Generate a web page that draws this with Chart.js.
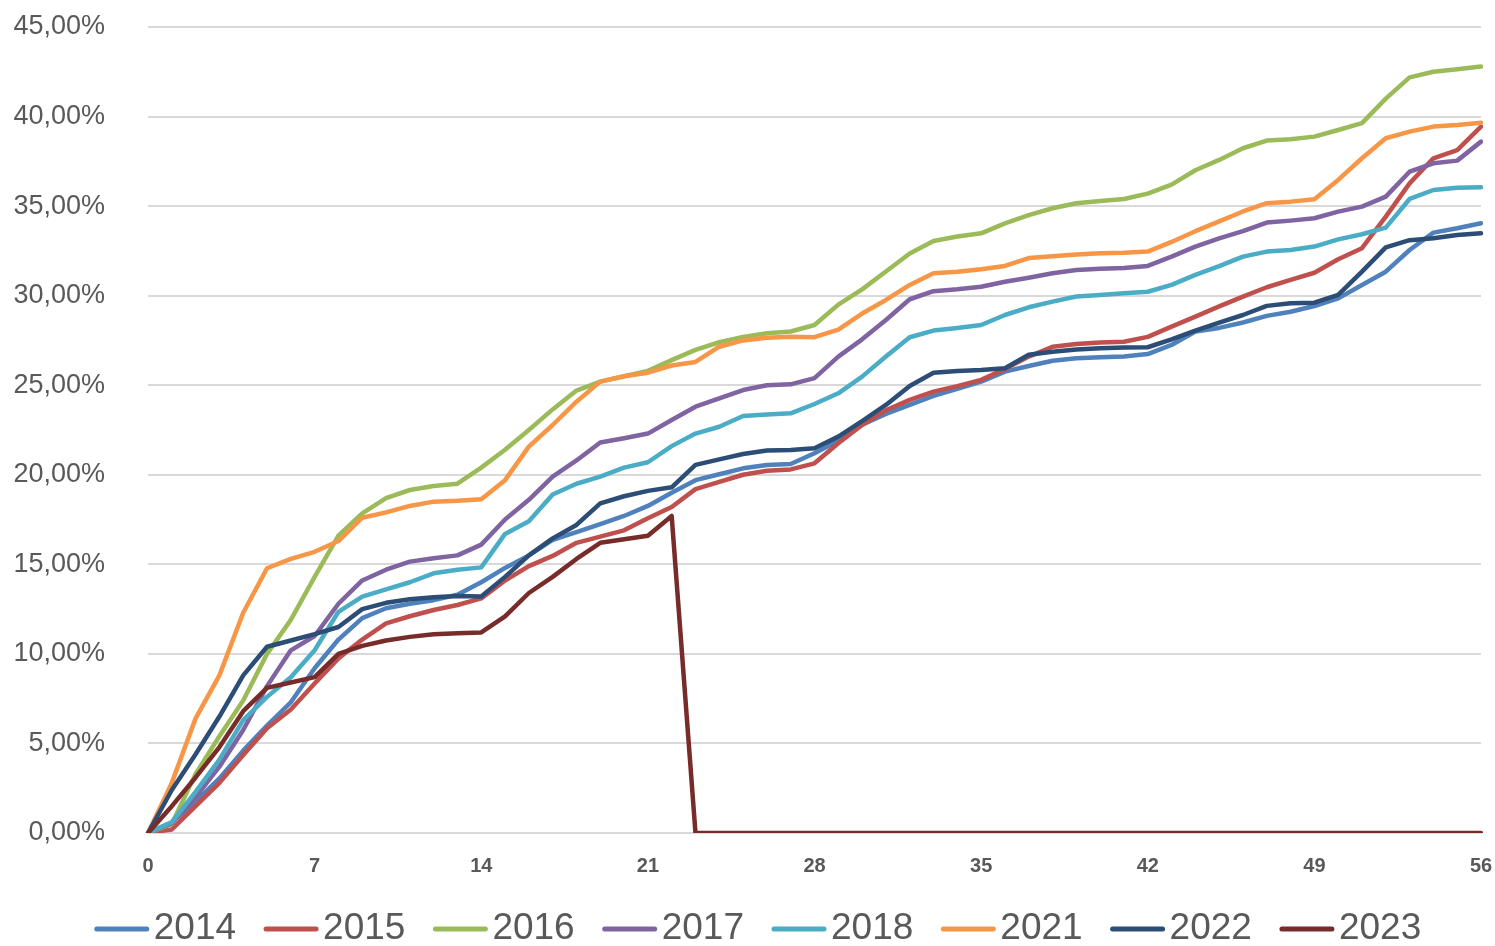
<!DOCTYPE html>
<html>
<head>
<meta charset="utf-8">
<script src="https://cdn.jsdelivr.net/npm/chart.js@4.4.1/dist/chart.umd.min.js"></script>
<style>
html,body{margin:0;padding:0;background:#fff;}
#wrap{width:1495px;height:946px;position:relative;}
</style>
</head>
<body>
<div id="wrap"><canvas id="c" width="1495" height="946"></canvas></div>
<script>
const weeks = Array.from({length: 57}, (_, i) => i);
const seriesNames = ['2014','2015','2016','2017','2018','2021','2022','2023'];
const colors = ['#4F81BD','#C0504D','#9BBB59','#8064A2','#4BACC6','#F79646','#2C4D75','#772C2A'];
const yTicks = [0,5,10,15,20,25,30,35,40,45];

const s2014 = [0,0.6,1.75,3.05,4.6,6.0,7.3,9.2,10.8,12.0,12.55,12.8,13.0,13.3,14.0,14.8,15.5,16.36,16.8,17.25,17.7,18.26,19.0,19.7,20.03,20.36,20.55,20.6,21.2,21.9,22.8,23.4,23.9,24.4,24.8,25.2,25.76,26.07,26.37,26.5,26.56,26.6,26.74,27.25,28.0,28.2,28.5,28.87,29.1,29.42,29.85,30.6,31.34,32.55,33.52,33.76,34.04];
const s2015 = [0,0.2,1.5,2.8,4.35,5.85,6.9,8.35,9.75,10.8,11.7,12.1,12.45,12.73,13.1,14.1,14.9,15.47,16.2,16.55,16.9,17.57,18.2,19.2,19.6,20.0,20.23,20.3,20.64,21.76,22.78,23.6,24.18,24.64,24.95,25.3,25.9,26.6,27.15,27.3,27.38,27.43,27.7,28.27,28.83,29.4,29.95,30.47,30.88,31.28,32.03,32.65,34.41,36.27,37.67,38.13,39.44];
const s2016 = [0,0.5,3.3,5.4,7.4,10.0,11.9,14.3,16.6,17.85,18.7,19.15,19.37,19.5,20.4,21.4,22.5,23.65,24.7,25.2,25.5,25.8,26.4,26.97,27.4,27.7,27.9,28.0,28.36,29.5,30.35,31.35,32.35,33.05,33.3,33.48,34.04,34.5,34.88,35.16,35.29,35.4,35.7,36.2,37.0,37.58,38.23,38.66,38.73,38.88,39.25,39.63,41.0,42.19,42.5,42.64,42.79];
const s2017 = [0,0.55,2.0,3.7,5.75,8.2,10.2,11.0,12.8,14.1,14.7,15.15,15.34,15.5,16.1,17.5,18.6,19.9,20.8,21.8,22.04,22.3,23.06,23.8,24.27,24.73,25.0,25.05,25.4,26.6,27.56,28.64,29.8,30.25,30.36,30.5,30.78,31.0,31.25,31.43,31.5,31.55,31.66,32.18,32.74,33.2,33.6,34.08,34.19,34.32,34.69,34.97,35.53,36.92,37.39,37.54,38.6];
const s2018 = [0,0.6,2.3,4.1,6.3,7.6,8.7,10.2,12.35,13.2,13.6,14.0,14.5,14.7,14.83,16.7,17.4,18.9,19.5,19.9,20.4,20.7,21.6,22.3,22.68,23.28,23.37,23.43,23.95,24.55,25.48,26.6,27.68,28.05,28.2,28.36,28.92,29.35,29.67,29.95,30.04,30.13,30.22,30.6,31.16,31.65,32.18,32.46,32.55,32.74,33.14,33.43,33.8,35.4,35.9,36.03,36.05];
const s2021 = [0,2.8,6.4,8.8,12.3,14.78,15.3,15.7,16.3,17.6,17.9,18.26,18.5,18.55,18.63,19.7,21.57,22.78,24.08,25.2,25.5,25.7,26.1,26.3,27.15,27.5,27.65,27.7,27.68,28.1,29.0,29.76,30.6,31.25,31.34,31.47,31.66,32.1,32.2,32.3,32.37,32.4,32.46,33.0,33.6,34.15,34.7,35.16,35.25,35.38,36.46,37.67,38.79,39.16,39.44,39.53,39.66];
const s2022 = [0,2.4,4.4,6.5,8.8,10.4,10.75,11.1,11.5,12.5,12.85,13.05,13.16,13.23,13.2,14.3,15.5,16.45,17.2,18.4,18.8,19.1,19.3,20.55,20.86,21.16,21.35,21.38,21.48,22.13,23.0,23.9,24.96,25.7,25.8,25.85,25.95,26.7,26.87,27.0,27.06,27.1,27.12,27.56,28.05,28.5,28.92,29.43,29.58,29.61,30.04,31.34,32.7,33.1,33.2,33.39,33.48];
const s2023 = [0,1.5,3.1,4.8,6.8,8.1,8.4,8.7,10.0,10.45,10.75,10.95,11.1,11.15,11.2,12.1,13.4,14.3,15.3,16.2,16.4,16.6,17.7,0,0,0,0,0,0,0,0,0,0,0,0,0,0,0,0,0,0,0,0,0,0,0,0,0,0,0,0,0,0,0,0,0,0];

const allSeries = [s2014,s2015,s2016,s2017,s2018,s2021,s2022,s2023];
const FONT = "'Liberation Sans', Arial, sans-serif";
const TXT = '#595959';

const datasets = allSeries.map((d, i) => ({
  label: seriesNames[i],
  data: d,
  borderColor: colors[i],
  backgroundColor: colors[i],
  borderWidth: 4.5,
  pointRadius: 0,
  pointHoverRadius: 0,
  tension: 0,
  fill: false,
  borderJoinStyle: 'round',
  borderCapStyle: 'round',
  order: allSeries.length - i
}));

const legendPlugin = {
  id: 'bottomLegend',
  afterDraw(chart) {
    const ctx = chart.ctx;
    ctx.save();
    ctx.font = '37px ' + FONT;
    const lineLen = 54, gapText = 5, gapItem = 28;
    const widths = seriesNames.map(n => ctx.measureText(n).width);
    const total = widths.reduce((a, w) => a + lineLen + gapText + w, 0) + gapItem * (seriesNames.length - 1);
    let x = 758 - total / 2;
    const y = 929;
    seriesNames.forEach((n, i) => {
      ctx.strokeStyle = colors[i];
      ctx.lineWidth = 5;
      ctx.lineCap = 'round';
      ctx.beginPath();
      ctx.moveTo(x + 2, y);
      ctx.lineTo(x + lineLen - 2, y);
      ctx.stroke();
      ctx.fillStyle = TXT;
      ctx.textBaseline = 'middle';
      ctx.textAlign = 'left';
      ctx.fillText(n, x + lineLen + gapText, y);
      x += lineLen + gapText + widths[i] + gapItem;
    });
    ctx.restore();
  }
};

new Chart(document.getElementById('c'), {
  type: 'line',
  data: { labels: weeks, datasets },
  options: {
    responsive: false,
    animation: false,
    events: [],
    layout: { padding: { left: 0, top: 27, right: 14, bottom: 68 } },
    plugins: { legend: { display: false }, tooltip: { enabled: false } },
    scales: {
      x: {
        type: 'category',
        offset: false,
        grid: { display: false, drawTicks: false },
        border: { display: true, color: '#d9d9d9', width: 2 },
        ticks: {
          autoSkip: false,
          maxRotation: 0,
          minRotation: 0,
          padding: 21,
          color: TXT,
          font: { family: FONT, size: 20, weight: 'bold' },
          callback: function(v) { const l = this.getLabelForValue(v); return (l % 7 === 0) ? String(l) : ''; }
        },
        afterFit: s => { s.height = 45; s.paddingLeft = 8; s.paddingRight = 8; }
      },
      y: {
        min: 0,
        max: 45,
        afterBuildTicks: s => { s.ticks = yTicks.map(v => ({ value: v })); },
        grid: { color: '#d9d9d9', lineWidth: 2, drawTicks: false },
        border: { display: false },
        ticks: {
          padding: 43,
          color: TXT,
          font: { family: FONT, size: 27 },
          callback: v => v.toFixed(2).replace('.', ',') + '%'
        },
        afterFit: s => { s.width = 148; s.paddingTop = 8; s.paddingBottom = 8; }
      }
    }
  },
  plugins: [legendPlugin]
});
</script>
</body>
</html>
